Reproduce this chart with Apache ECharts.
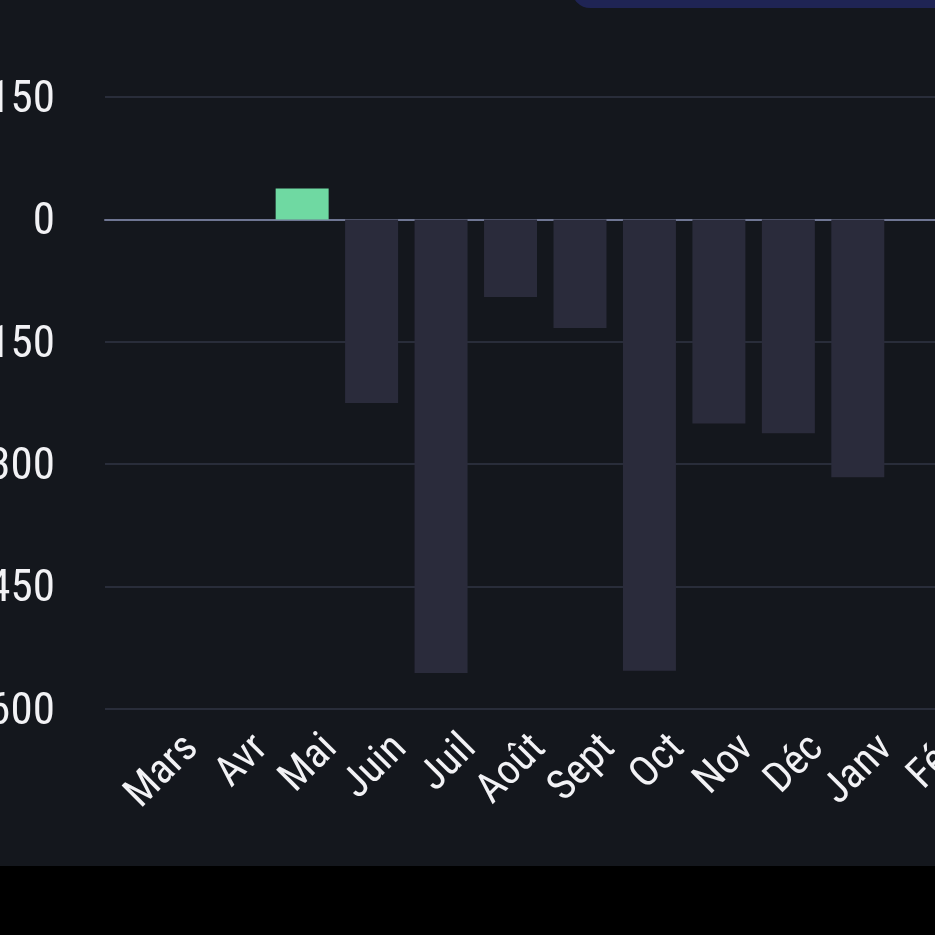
<!DOCTYPE html>
<html>
<head>
<meta charset="utf-8">
<script src="https://cdn.jsdelivr.net/npm/echarts@6/dist/echarts.min.js"></script>
<style>
  html, body { margin: 0; padding: 0; background: #000; }
  #chart { width: 935px; height: 866px; background: #14171d; }
</style>
</head>
<body>
<div id="chart"></div>
<script>
// mois (Mars -> Fév) et soldes
var months = ['Mars', 'Avr', 'Mai', 'Juin', 'Juil', 'Août', 'Sept', 'Oct', 'Nov', 'Déc', 'Janv', 'Fév'];
var values = [0, 0, 38, -225, -556, -95, -133, -553, -250, -262, -316, 0];
var yTicks = { min: -600, max: 150, interval: 150 };

var font = '"Roboto Condensed", "Liberation Sans Narrow", sans-serif';

var chart = echarts.init(document.getElementById('chart'));

var option = {
  backgroundColor: '#14171d',
  animation: false,
  graphic: [{
    type: 'rect',
    shape: { x: 572, y: -30, width: 420, height: 38, r: 18 },
    style: { fill: '#1f2454' }
  }],
  grid: [
    // grille pour les lignes de fond
    { left: 105, right: -27, top: 97, bottom: 157, outerBoundsMode: 'none', containLabel: false },
    // grille pour les barres
    { left: 128.5, right: -27, top: 97, bottom: 157, outerBoundsMode: 'none', containLabel: false }
  ],
  xAxis: [
    {
      gridIndex: 0,
      type: 'category',
      data: [''],
      axisLine: { show: true, onZero: true, lineStyle: { color: '#6f7693', width: 2 } },
      axisTick: { show: false },
      axisLabel: { show: false }
    },
    {
      gridIndex: 1,
      type: 'category',
      data: months,
      axisLine: { show: false },
      axisTick: { show: false },
      axisLabel: {
        interval: 0,
        rotate: 45,
        margin: 27,
        verticalAlign: 'top',
        padding: [4, -16, 0, 0],
        color: '#f2f2f5',
        fontSize: 42,
        fontFamily: font
      }
    }
  ],
  yAxis: [
    {
      gridIndex: 0,
      type: 'value',
      min: yTicks.min,
      max: yTicks.max,
      interval: yTicks.interval,
      axisLine: { show: false },
      axisTick: { show: false },
      splitLine: { lineStyle: { color: '#292d3a', width: 2 } },
      axisLabel: {
        margin: 50,
        verticalAlign: 'top',
        padding: [-19, 0, 0, 0],
        color: '#f2f2f5',
        fontSize: 45,
        fontFamily: font
      }
    },
    {
      gridIndex: 1,
      type: 'value',
      min: yTicks.min,
      max: yTicks.max,
      interval: yTicks.interval,
      show: false
    }
  ],
  series: [{
    type: 'bar',
    xAxisIndex: 1,
    yAxisIndex: 1,
    barWidth: 53,
    data: values.map(function (v) {
      return {
        value: v,
        itemStyle: { color: v > 0 ? '#6fd9a2' : '#2a2b3b' }
      };
    })
  }]
};

chart.setOption(option);
</script>
</body>
</html>
